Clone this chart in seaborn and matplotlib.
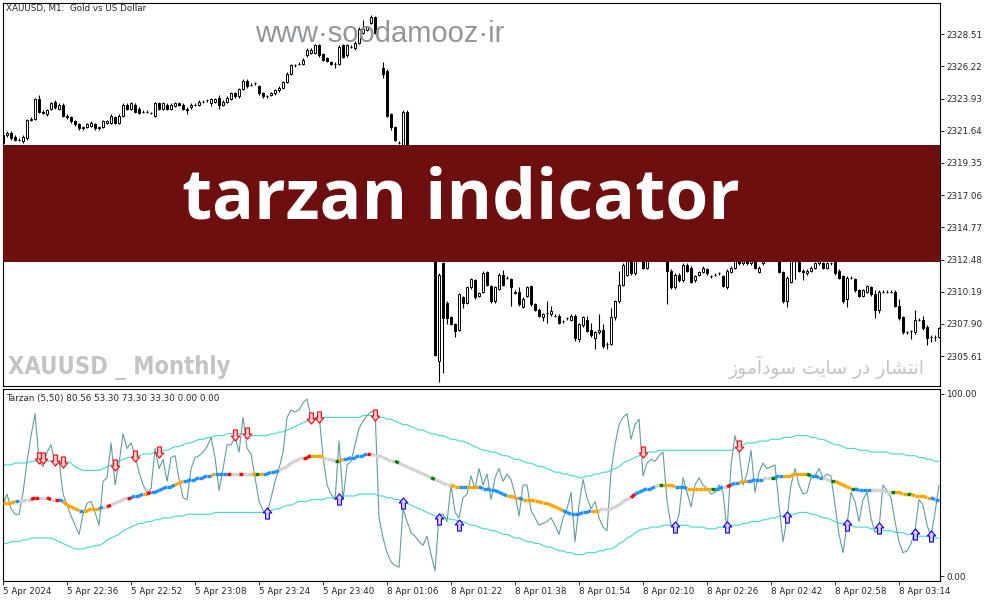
import numpy as np
import pandas as pd
import matplotlib
matplotlib.use('Agg')
import matplotlib.pyplot as plt
import seaborn as sns
from matplotlib.path import Path
from matplotlib.patches import Rectangle
from matplotlib.collections import LineCollection

nan = np.nan

# ---------------- price pane: XAUUSD M1 candles ----------------
opens = [
    2321.3, 2321.3, 2321.5, 2321.2, 2321.0, 2320.9, 2321.1, 2322.4, 2322.5, 2323.9,
    2323.0, 2322.8, 2323.2, 2323.7, 2323.2, 2323.5, 2322.7, 2322.6, 2322.3, 2322.1,
    2321.8, 2321.9, 2322.0, 2322.1, 2321.8, 2321.9, 2322.2, 2322.2, 2322.6, 2322.2,
    2322.7, 2323.5, 2323.2, 2323.5, 2323.2, 2323.0, 2323.0, 2322.9, 2322.7, 2323.6,
    2323.2, 2323.5, 2323.2, 2323.4, 2323.6, 2323.5, 2323.2, 2323.3, 2323.5, 2323.5,
    2323.7, 2323.8, 2323.6, 2323.7, 2324.0, 2323.5, 2323.7, 2323.9, 2324.3, 2324.1,
    2324.6, 2325.2, 2324.9, 2325.0, 2324.8, 2324.3, 2324.1, 2324.2, 2324.3, 2324.5,
    2324.7, 2325.1, 2325.7, 2326.3, 2326.4, 2326.4, 2327.0, 2327.2, 2327.2, 2327.7,
    2327.1, 2326.8, 2326.5, 2326.4, 2326.4, 2327.7, 2327.0, 2327.6, 2327.5, 2327.9,
    2328.6, 2328.8, 2329.3, 2329.7, nan, 2326.1, 2325.9, 2322.8, 2321.9, 2320.8,
    2320.3, 2323.0, 2319.6, 2317.4, 2318.5, 2315.3, 2313.9, 2314.9, 2313.2, 2305.3,
    2312.2, 2309.4, 2308.4, 2307.9, 2307.5, 2309.8, 2309.4, 2310.5, 2311.0, 2309.9,
    2310.2, 2311.6, 2310.6, 2309.5, 2310.4, 2311.4, 2311.2, 2311.1, 2310.2, 2310.2,
    2309.1, 2309.9, 2310.6, 2309.3, 2308.9, 2308.4, 2308.7, 2308.6, 2308.5, 2308.5,
    2308.1, 2308.3, 2308.2, 2308.5, 2306.8, 2307.8, 2308.2, 2307.5, 2306.9, 2307.3,
    2307.5, 2306.5, 2306.5, 2308.4, 2309.5, 2310.7, 2311.4, 2312.8, 2311.5, 2313.2,
    2312.8, 2311.9, 2312.6, 2313.2, 2313.5, 2313.2, 2312.8, 2311.7, 2310.5, 2311.4,
    2311.0, 2312.1, 2311.9, 2311.0, 2311.4, 2311.6, 2311.8, 2311.3, 2311.4, 2311.5,
    2311.3, 2310.5, 2311.6, 2311.9, 2312.6, 2312.2, 2312.6, 2312.2, 2312.7, 2311.6,
    2312.2, 2312.6, 2313.0, 2313.2, 2312.8, 2311.6, 2309.5, 2310.9, 2312.6, 2312.6,
    2311.7, 2311.5, 2311.7, 2311.9, 2312.2, 2312.2, 2311.9, 2312.2, 2312.6, 2311.7,
    2311.3, 2309.7, 2311.2, 2311.1, 2310.3, 2309.9, 2310.2, 2310.5, 2310.0, 2308.9,
    2310.2, 2310.2, 2310.2, 2310.2, 2309.2, 2308.4, 2307.3, 2307.4, 2307.3, 2308.2,
    2308.2, 2307.7, 2307.0, 2307.0, 2307.0,
]
closes = [
    2320.8, 2321.5, 2321.1, 2321.0, 2321.0, 2321.2, 2322.4, 2322.5, 2323.9, 2323.0,
    2322.9, 2323.1, 2323.6, 2323.3, 2323.5, 2322.7, 2322.6, 2322.3, 2322.1, 2321.8,
    2321.9, 2322.1, 2322.2, 2321.8, 2321.9, 2322.3, 2322.3, 2322.7, 2322.2, 2322.7,
    2323.5, 2323.2, 2323.6, 2323.0, 2322.9, 2323.0, 2323.0, 2322.9, 2323.6, 2323.2,
    2323.6, 2323.2, 2323.5, 2323.6, 2323.5, 2323.2, 2323.1, 2323.5, 2323.5, 2323.7,
    2323.7, 2323.8, 2323.9, 2323.9, 2323.5, 2323.7, 2324.0, 2324.3, 2324.1, 2324.6,
    2325.2, 2324.8, 2324.9, 2325.0, 2324.3, 2324.1, 2324.1, 2324.3, 2324.5, 2324.7,
    2325.1, 2325.7, 2326.3, 2326.3, 2326.4, 2326.7, 2327.4, 2327.4, 2327.7, 2327.0,
    2326.7, 2326.6, 2326.4, 2326.4, 2327.6, 2326.9, 2327.7, 2327.6, 2327.9, 2328.9,
    2328.9, 2329.0, 2329.7, 2328.6, nan, 2325.7, 2322.7, 2321.9, 2321.0, 2320.8,
    2323.0, 2319.6, 2317.4, 2318.5, 2315.3, 2313.9, 2314.9, 2313.2, 2305.7, 2311.4,
    2308.3, 2308.3, 2307.9, 2307.4, 2310.0, 2309.4, 2310.5, 2311.1, 2309.8, 2310.1,
    2311.5, 2310.7, 2309.5, 2310.5, 2311.4, 2310.7, 2311.2, 2310.5, 2310.1, 2309.3,
    2309.7, 2310.5, 2309.3, 2308.9, 2308.5, 2308.6, 2308.7, 2308.8, 2308.5, 2308.0,
    2308.1, 2308.3, 2308.5, 2306.9, 2307.9, 2308.4, 2307.4, 2307.1, 2307.3, 2307.5,
    2306.3, 2306.5, 2308.4, 2309.5, 2310.7, 2312.1, 2312.8, 2311.5, 2312.8, 2312.6,
    2311.9, 2312.6, 2313.2, 2313.5, 2313.2, 2312.8, 2311.7, 2310.5, 2311.4, 2311.0,
    2312.1, 2311.7, 2310.9, 2311.3, 2311.6, 2311.9, 2311.5, 2311.3, 2311.4, 2311.5,
    2310.6, 2311.7, 2311.9, 2312.4, 2312.2, 2312.6, 2312.2, 2312.7, 2311.9, 2311.9,
    2312.6, 2313.0, 2313.2, 2312.8, 2311.6, 2309.5, 2311.2, 2312.6, 2312.8, 2311.7,
    2311.6, 2311.7, 2311.9, 2312.2, 2312.6, 2311.9, 2312.2, 2312.2, 2311.5, 2311.2,
    2309.5, 2311.2, 2311.2, 2310.3, 2309.9, 2310.3, 2310.6, 2310.0, 2308.9, 2310.2,
    2310.2, 2310.2, 2310.2, 2309.2, 2308.3, 2307.3, 2307.3, 2307.4, 2308.2, 2308.2,
    2307.6, 2306.9, 2307.0, 2307.0, 2307.6,
]
# wick length above / below the body
wick_up = [
    0.1, 0.1, 0.1, 0.1, 0.1, 0.1, 0.1, 0.1, 0.1, 0.25,
    0.1, 0.1, 0.1, 0.1, 0.1, 0.1, 0.1, 0.1, 0.1, 0.1,
    0.1, 0.1, 0.1, 0.1, 0.1, 0.1, 0.1, 0.1, 0.1, 0.1,
    0.1, 0.1, 0.1, 0.1, 0.1, 0.1, 0.1, 0.1, 0.1, 0.1,
    0.1, 0.1, 0.1, 0.1, 0.1, 0.1, 0.1, 0.1, 0.1, 0.1,
    0.1, 0.1, 0.1, 0.1, 0.2, 0.1, 0.1, 0.1, 0.1, 0.1,
    0.15, 0.1, 0.1, 0.1, 0.1, 0.1, 0.1, 0.1, 0.1, 0.1,
    0.1, 0.1, 0.1, 0.1, 0.1, 0.1, 0.1, 0.1, 0.1, 0.1,
    0.1, 0.1, 0.1, 0.1, 0.1, 0.1, 0.1, 0.1, 0.1, 0.1,
    0.6, 0.1, 0.2, 0.1, 0.0, 0.4, 0.1, 0.1, 0.1, 0.1,
    0.1, 0.1, 0.1, 0.1, 0.1, 0.1, 0.1, 0.1, 0.1, 0.1,
    0.1, 0.1, 0.1, 0.1, 0.1, 0.1, 0.1, 0.1, 0.1, 0.1,
    0.2, 0.1, 0.1, 0.1, 0.1, 0.35, 0.1, 0.1, 0.1, 0.3,
    0.1, 0.1, 0.1, 0.1, 0.1, 0.1, 0.8, 0.4, 0.1, 0.1,
    0.1, 0.1, 0.1, 0.1, 0.1, 0.1, 0.3, 0.5, 0.1, 1.1,
    0.4, 0.1, 0.6, 0.1, 1.0, 0.1, 0.1, 0.1, 0.1, 0.1,
    0.1, 0.1, 0.1, 0.1, 0.1, 0.1, 0.1, 0.1, 0.1, 0.1,
    0.1, 0.1, 0.1, 0.1, 0.1, 0.1, 0.1, 0.1, 0.1, 0.1,
    0.1, 0.1, 0.1, 0.1, 0.1, 0.1, 0.1, 0.1, 0.1, 0.1,
    0.1, 0.1, 0.1, 0.1, 0.1, 0.1, 0.1, 0.1, 0.1, 0.1,
    0.1, 0.1, 0.1, 0.1, 0.1, 0.1, 0.1, 0.1, 0.1, 0.1,
    0.1, 0.1, 0.1, 0.1, 0.1, 0.1, 0.1, 0.1, 0.3, 0.1,
    0.1, 0.1, 0.1, 0.1, 0.5, 0.1, 0.1, 0.1, 0.7, 0.1,
    0.3, 0.1, 0.1, 0.1, 0.1,
]
wick_dn = [
    0.1, 0.1, 0.1, 0.1, 0.1, 0.1, 0.1, 0.1, 0.1, 0.1,
    0.1, 0.1, 0.1, 0.1, 0.1, 0.1, 0.1, 0.1, 0.1, 0.1,
    0.1, 0.1, 0.1, 0.1, 0.1, 0.1, 0.1, 0.1, 0.1, 0.1,
    0.1, 0.1, 0.1, 0.1, 0.1, 0.1, 0.1, 0.1, 0.1, 0.1,
    0.1, 0.1, 0.1, 0.1, 0.1, 0.1, 0.3, 0.1, 0.1, 0.1,
    0.1, 0.1, 0.2, 0.1, 0.3, 0.1, 0.1, 0.1, 0.1, 0.1,
    0.1, 0.1, 0.1, 0.1, 0.1, 0.1, 0.1, 0.1, 0.1, 0.1,
    0.1, 0.1, 0.1, 0.1, 0.1, 0.1, 0.1, 0.1, 0.1, 0.1,
    0.1, 0.1, 0.1, 0.3, 0.1, 0.1, 0.1, 0.1, 0.1, 0.1,
    0.1, 0.1, 0.1, 0.1, 0.0, 0.3, 0.1, 0.2, 0.1, 0.1,
    0.1, 0.1, 0.1, 0.1, 0.1, 0.1, 0.1, 0.1, 0.1, 1.5,
    3.9, 0.4, 0.1, 0.4, 0.1, 0.4, 0.1, 0.1, 0.1, 0.1,
    0.1, 0.1, 0.1, 0.1, 0.1, 0.1, 0.1, 1.3, 0.1, 0.1,
    0.1, 0.1, 0.1, 0.1, 0.1, 0.3, 0.7, 0.1, 0.1, 0.1,
    0.1, 0.1, 0.1, 0.2, 0.2, 0.1, 0.1, 0.1, 0.8, 0.1,
    0.1, 0.4, 0.1, 0.2, 0.1, 0.1, 0.1, 0.1, 0.1, 0.1,
    0.1, 0.1, 0.1, 0.1, 0.1, 0.1, 2.4, 0.1, 0.1, 0.1,
    0.1, 0.1, 0.1, 0.1, 0.1, 0.1, 0.1, 0.1, 0.1, 0.1,
    0.1, 0.1, 0.1, 0.1, 0.1, 0.1, 0.1, 0.1, 0.1, 0.1,
    0.1, 0.1, 0.1, 0.1, 0.1, 0.1, 0.4, 0.1, 1.5, 0.1,
    0.6, 0.1, 0.1, 0.1, 0.1, 0.1, 0.1, 0.1, 0.1, 0.1,
    0.1, 0.6, 0.1, 0.1, 0.1, 0.1, 0.1, 0.1, 0.6, 0.2,
    0.1, 0.1, 0.1, 0.1, 0.1, 0.1, 0.1, 0.6, 0.1, 0.1,
    0.1, 0.5, 0.4, 0.3, 0.1,
]

price_ticks = [2328.51, 2326.22, 2323.93, 2321.64, 2319.35, 2317.06,
               2314.77, 2312.48, 2310.19, 2307.90, 2305.61]

# ---------------- indicator pane: Tarzan (5,50) ----------------
osc = [
    40, 45, 37, 34, 34, 46, 63, 77, 89, 63,
    60, 68, 72, 61, 63, 45, 39, 33, 28, 23,
    34, 40, 41, 35, 28, 52, 54, 73, 50, 62,
    78, 70, 73, 66, 57, 50, 46, 48, 70, 59,
    64, 52, 65, 66, 53, 43, 42, 59, 65, 66,
    68, 71, 76, 65, 47, 59, 72, 72, 76, 68,
    87, 70, 67, 54, 41, 36, 34, 43, 52, 59,
    68, 87, 91, 90, 91, 95, 97, 87, 86, 89,
    65, 50, 45, 42, 74, 42, 61, 63, 72, 81,
    85, 88, 90, 91, 32, 21, 13, 8, 6, 5,
    37, 30, 24, 22, 19, 17, 22, 12, 3, 34,
    34, 30, 50, 35, 32, 43, 45, 55, 48, 59,
    50, 56, 42, 54, 59, 52, 56, 53, 45, 33,
    50, 50, 36, 32, 28, 29, 30, 32, 28, 23,
    32, 37, 46, 19, 39, 53, 43, 37, 41, 32,
    27, 25, 57, 72, 83, 87, 89, 75, 83, 86,
    55, 62, 64, 63, 66, 68, 41, 28, 26, 34,
    54, 46, 38, 50, 54, 50, 48, 45, 46, 50,
    46, 25, 61, 77, 68, 50, 56, 69, 46, 57,
    62, 59, 60, 61, 39, 19, 32, 50, 59, 50,
    45, 46, 54, 55, 59, 54, 56, 55, 39, 23,
    13, 28, 46, 41, 30, 42, 46, 32, 24, 26,
    50, 47, 43, 30, 19, 13, 14, 18, 25, 42,
    39, 28, 22, 35, 50,
]
upper = [
    61, 61, 61, 62, 62, 62, 62, 63, 63, 63,
    63, 63, 63, 63, 63, 63, 63, 62, 60, 59,
    58, 58, 58, 58, 58, 59, 60, 61, 62, 63,
    64, 65, 65, 66, 66, 67, 67, 67, 68, 68,
    69, 69, 70, 71, 71, 72, 73, 73, 74, 75,
    75, 76, 76, 77, 77, 77, 78, 78, 78, 78,
    78, 78, 77, 77, 77, 77, 77, 78, 78, 79,
    79, 80, 81, 82, 83, 84, 85, 85, 86, 86,
    87, 87, 87, 87, 87, 87, 87, 87, 87, 87,
    88, 88, 88, 88, 87, 87, 86, 86, 85, 84,
    83, 83, 82, 81, 80, 80, 79, 78, 78, 77,
    77, 76, 75, 75, 74, 74, 73, 72, 71, 70,
    69, 69, 68, 68, 67, 66, 66, 65, 64, 64,
    63, 62, 62, 61, 60, 60, 59, 58, 57, 57,
    56, 56, 55, 55, 54, 54, 55, 55, 56, 56,
    57, 57, 58, 59, 60, 62, 63, 64, 65, 66,
    67, 68, 68, 68, 69, 69, 69, 69, 69, 69,
    69, 69, 69, 69, 69, 69, 69, 69, 69, 69,
    69, 69, 69, 70, 71, 72, 73, 73, 73, 74,
    74, 74, 75, 75, 75, 76, 76, 76, 77, 77,
    77, 77, 76, 76, 75, 75, 74, 73, 72, 72,
    71, 70, 70, 70, 69, 69, 69, 68, 68, 68,
    68, 68, 67, 67, 67, 67, 66, 66, 66, 65,
    65, 64, 64, 63, 63,
]
lower = [
    18, 18, 19, 19, 19, 20, 20, 21, 21, 21,
    21, 21, 21, 20, 19, 18, 17, 16, 15, 15,
    15, 16, 16, 17, 17, 18, 20, 21, 22, 23,
    25, 26, 27, 28, 29, 29, 30, 30, 31, 31,
    32, 32, 32, 33, 33, 33, 34, 34, 34, 34,
    34, 34, 34, 35, 35, 35, 35, 35, 35, 35,
    35, 35, 35, 35, 35, 35, 35, 36, 37, 37,
    38, 39, 39, 40, 41, 41, 41, 42, 42, 42,
    42, 43, 43, 43, 43, 44, 44, 44, 44, 45,
    45, 45, 45, 45, 44, 44, 43, 43, 42, 42,
    41, 40, 39, 38, 37, 36, 35, 34, 33, 33,
    32, 32, 31, 31, 30, 30, 29, 28, 28, 27,
    26, 26, 25, 25, 24, 23, 23, 22, 21, 21,
    20, 19, 19, 18, 18, 17, 16, 16, 15, 14,
    14, 13, 13, 12, 12, 12, 13, 13, 13, 14,
    14, 15, 15, 16, 18, 19, 21, 22, 24, 25,
    26, 26, 27, 27, 27, 28, 28, 28, 28, 28,
    28, 28, 27, 27, 27, 27, 26, 26, 26, 27,
    27, 27, 28, 28, 28, 29, 29, 30, 30, 30,
    31, 31, 32, 32, 33, 33, 34, 34, 34, 35,
    35, 35, 34, 34, 33, 32, 32, 31, 30, 29,
    29, 28, 28, 27, 27, 27, 27, 26, 26, 26,
    25, 25, 25, 24, 24, 24, 23, 23, 23, 22,
    22, 22, 21, 21, 21,
]
middle = [
    40, 40, 40, 41, 41, 41, 42, 42, 43, 43,
    43, 43, 42, 42, 42, 41, 39, 38, 37, 36,
    36, 36, 37, 37, 37, 38, 38, 39, 40, 41,
    42, 43, 43, 44, 44, 45, 45, 46, 46, 47,
    48, 49, 49, 50, 51, 52, 52, 53, 53, 54,
    54, 55, 55, 56, 56, 56, 56, 56, 56, 56,
    56, 56, 56, 56, 56, 56, 56, 57, 57, 58,
    59, 60, 62, 63, 64, 65, 65, 66, 66, 66,
    65, 64, 64, 63, 63, 64, 64, 65, 65, 66,
    66, 67, 67, 66, 66, 65, 64, 63, 63, 62,
    61, 60, 59, 58, 57, 56, 55, 54, 53, 52,
    51, 50, 50, 49, 49, 49, 49, 49, 49, 49,
    48, 48, 47, 47, 46, 45, 44, 44, 43, 43,
    42, 42, 42, 41, 41, 40, 40, 39, 38, 37,
    36, 35, 34, 34, 34, 35, 35, 36, 36, 36,
    37, 37, 37, 38, 39, 41, 42, 43, 45, 46,
    47, 48, 48, 49, 50, 50, 50, 50, 49, 49,
    49, 48, 48, 48, 48, 48, 48, 48, 48, 48,
    49, 49, 50, 51, 51, 52, 52, 52, 53, 53,
    53, 54, 54, 54, 55, 55, 55, 55, 56, 56,
    56, 56, 55, 55, 54, 54, 53, 52, 52, 51,
    50, 49, 48, 48, 47, 47, 47, 47, 47, 47,
    47, 46, 46, 46, 46, 45, 45, 45, 44, 44,
    44, 43, 43, 42, 42,
]
# colour state of the middle line: (colour, number of bars)
mid_runs = [
    ('blue', 1), ('orange', 3), ('blue', 1), ('gray', 3), ('red', 2), ('gray', 2),
    ('red', 1), ('gray', 1), ('red', 1), ('blue', 1), ('orange', 4), ('blue', 1),
    ('orange', 4), ('blue', 1), ('gray', 1), ('red', 1), ('gray', 4), ('red', 1),
    ('blue', 3), ('orange', 1), ('red', 1), ('blue', 6), ('orange', 2), ('blue', 7),
    ('orange', 1), ('blue', 3), ('red', 1), ('gray', 2), ('red', 1), ('gray', 2),
    ('orange', 1), ('green', 1), ('orange', 1), ('blue', 4), ('gray', 6), ('red', 2),
    ('orange', 3), ('gray', 3), ('green', 1), ('orange', 1), ('blue', 6), ('red', 1),
    ('gray', 6), ('green', 1), ('gray', 8), ('green', 1), ('gray', 4), ('orange', 2),
    ('blue', 2), ('orange', 3), ('blue', 7), ('orange', 3), ('blue', 1), ('orange', 10),
    ('blue', 7), ('orange', 2), ('gray', 8), ('red', 1), ('blue', 5), ('gray', 1),
    ('green', 1), ('orange', 3), ('blue', 3), ('orange', 6), ('green', 1), ('blue', 2),
    ('gray', 1), ('red', 1), ('blue', 2), ('orange', 2), ('blue', 4), ('gray', 2),
    ('green', 1), ('blue', 2), ('orange', 6), ('green', 1), ('blue', 3), ('gray', 2),
    ('green', 1), ('orange', 4), ('green', 1), ('blue', 4), ('gray', 5), ('green', 1),
    ('orange', 3), ('green', 1), ('orange', 5), ('blue', 2),
]
sell_bars = [10, 11, 14, 16, 29, 34, 40, 59, 62, 78, 80, 94, 161, 185]
sell_vals = [64.8, 64.8, 63.7, 62.6, 61.0, 65.9, 68.1, 77.5, 78.6, 86.8, 87.4, 88.5, 68.1, 71.4]
buy_bars = [67, 85, 101, 110, 115, 169, 182, 197, 212, 220, 229, 233]
buy_vals = [34.6, 42.3, 40.1, 31.3, 28.0, 26.9, 26.9, 32.4, 28.0, 26.4, 23.1, 22.0]

date_bars = [1, 17, 33, 49, 65, 81, 97, 113, 129, 145, 161, 177, 193, 209, 225]
date_labels = ['5 Apr 2024', '5 Apr 22:36', '5 Apr 22:52', '5 Apr 23:08', '5 Apr 23:24',
               '5 Apr 23:40', '8 Apr 01:06', '8 Apr 01:22', '8 Apr 01:38', '8 Apr 01:54',
               '8 Apr 02:10', '8 Apr 02:26', '8 Apr 02:42', '8 Apr 02:58', '8 Apr 03:14']

# ---------------- figure ----------------
sns.set_style('white')
plt.rcParams['font.family'] = ['DejaVu Sans']

W, H = 994, 603
fig = plt.figure(figsize=(W / 100, H / 100), dpi=100)


def fx(px):
    return px / W


def fy(py):
    return 1 - py / H


ax = fig.add_axes([fx(3), fy(386), fx(937), 383 / H])
ax2 = fig.add_axes([fx(3), fy(581), fx(937), 192 / H])

bars = np.arange(1, len(closes) + 1)
o = np.array(opens, dtype=float)
c = np.array(closes, dtype=float)
ok = ~np.isnan(o)
hi = np.maximum(o, c) + np.array(wick_up)
lo = np.minimum(o, c) - np.array(wick_dn)
up = ok & (c >= o)
dn = ok & (c < o)

ax.vlines(bars[ok], lo[ok], hi[ok], color='black', linewidth=0.8, zorder=2)
ax.bar(bars[up], (c - o)[up], bottom=o[up], width=0.7, facecolor='white',
       edgecolor='black', linewidth=0.7, zorder=3)
ax.bar(bars[dn], (c - o)[dn], bottom=o[dn], width=0.7, facecolor='black',
       edgecolor='black', linewidth=0.7, zorder=3)

ax.set_xlim(0.98, 235.25)
ax.set_ylim(2303.49, 2330.72)
ax.set_xticks([])
ax.yaxis.tick_right()
ax.set_yticks(price_ticks, [f'{v:.2f}' for v in price_ticks])
ax.tick_params(axis='y', direction='out', length=3, width=0.7, pad=1.5,
               labelsize=6.3, right=True, left=False)
for s in ax.spines.values():
    s.set_color('black')
    s.set_linewidth(0.8)

# indicator
ind = pd.DataFrame({'bar': bars, 'osc': osc, 'upper': upper, 'lower': lower, 'middle': middle})
sns.lineplot(data=ind, x='bar', y='upper', color='#40d8cf', linewidth=0.8, ax=ax2)
sns.lineplot(data=ind, x='bar', y='lower', color='#40d8cf', linewidth=0.8, ax=ax2)
sns.lineplot(data=ind, x='bar', y='osc', color='#5f9ea0', linewidth=0.8, ax=ax2)

palette = {'blue': '#1e90ff', 'orange': '#ffa500', 'gray': '#d3d3d3',
           'red': '#ff0000', 'green': '#008000'}
mid_cols = []
for name, n in mid_runs:
    mid_cols += [palette[name]] * n
mid = ind['middle'].to_numpy(dtype=float)
segs = [[(bars[i - 1], mid[i - 1]), (bars[i], mid[i])] for i in range(1, len(mid))]
ax2.add_collection(LineCollection(segs, colors=mid_cols[1:], linewidths=2.4,
                                  capstyle='butt', zorder=4))

down_arrow = Path([(-0.17, 0.5), (0.17, 0.5), (0.17, -0.05), (0.38, -0.05),
                   (0, -0.5), (-0.38, -0.05), (-0.17, -0.05), (-0.17, 0.5)],
                  [Path.MOVETO] + [Path.LINETO] * 6 + [Path.CLOSEPOLY])
up_arrow = Path([(x, -y) for x, y in down_arrow.vertices], down_arrow.codes)
ax2.plot(sell_bars, sell_vals, linestyle='none', marker=down_arrow, markersize=8,
         markerfacecolor='#ffd6dc', markeredgecolor='red', markeredgewidth=0.8, zorder=6)
ax2.plot(buy_bars, buy_vals, linestyle='none', marker=up_arrow, markersize=8,
         markerfacecolor='#f0c8f8', markeredgecolor='blue', markeredgewidth=0.8, zorder=6)

ax2.set_xlim(0.98, 235.25)
ax2.set_ylim(-2.5, 102.5)
ax2.set_xlabel('')
ax2.set_ylabel('')
ax2.yaxis.tick_right()
ax2.set_yticks([100, 0], ['100.00', '0.00'])
ax2.set_xticks(date_bars, date_labels)
for lbl in ax2.get_xticklabels():
    lbl.set_horizontalalignment('left')
ax2.tick_params(axis='y', direction='out', length=3, width=0.7, pad=1.5,
                labelsize=6.3, right=True, left=False)
ax2.tick_params(axis='x', direction='out', length=3, width=0.7, pad=1.5,
                labelsize=6.3, bottom=True)
for s in ax2.spines.values():
    s.set_color('black')
    s.set_linewidth(0.8)

# overlays
fig.text(fx(6), fy(9), 'XAUUSD, M1:  Gold vs US Dollar', fontsize=6.3, va='center')
fig.text(fx(6), fy(398), 'Tarzan (5,50) 80.56 53.30 73.30 33.30 0.00 0.00',
         fontsize=6.3, va='center')
fig.text(fx(380), fy(34), 'www\u00b7soodamooz\u00b7ir', fontsize=21, color='#8f969c',
         family=['Liberation Sans', 'DejaVu Sans'], ha='center', va='center', zorder=8)

fig.add_artist(Rectangle((fx(3), fy(262)), fx(937), 117 / H, transform=fig.transFigure,
                         facecolor='#6d0f0e', edgecolor='none', zorder=5))
fig.text(fx(461), fy(201), 'tarzan indicator', fontsize=50, fontweight='bold',
         color='white', family=['Open Sans', 'DejaVu Sans'], ha='center', va='center', zorder=7)

fig.text(fx(8), fy(368), 'XAUUSD _ Monthly', fontsize=17, fontweight='bold', color='#c4c4c4',
         family=['DejaVu Sans'], fontstretch='condensed', ha='left', va='center', zorder=7)
fa_text = ('\ufeaf\ufeee\ufee3\ufe81\ufea9\ufeee\ufeb3 \ufe96\ufef3\ufe8e\ufeb3 '
           '\ufead\ufea9 \ufead\ufe8e\ufeb8\ufe98\ufee7\ufe8d')
fig.text(fx(925), fy(367), fa_text, fontsize=13.5, color='#c4c4c4',
         family=['DejaVu Sans'], ha='right', va='center', zorder=7)

fig.savefig('out.png', dpi=100)
